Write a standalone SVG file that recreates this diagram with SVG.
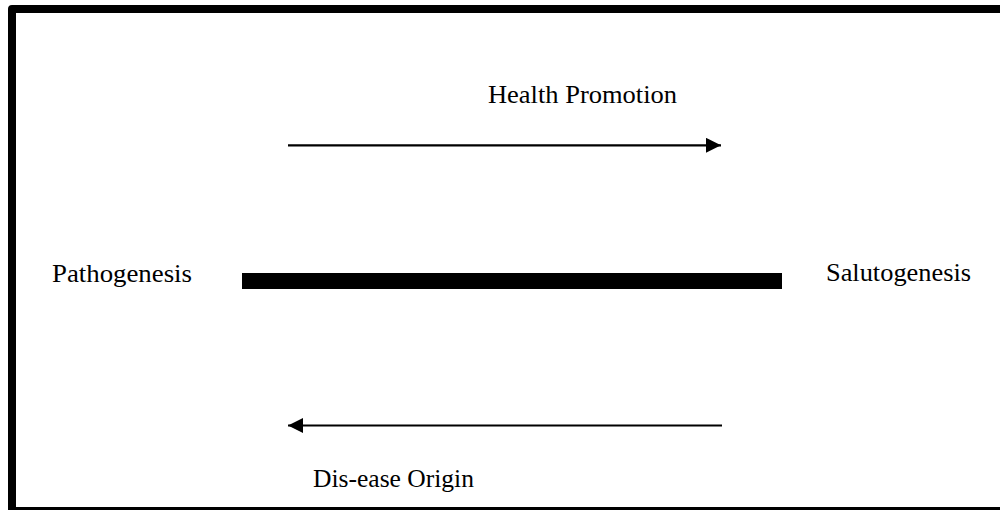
<svg xmlns="http://www.w3.org/2000/svg" width="1000" height="510" viewBox="0 0 1000 510">
  <style>
    .lbl { font-family: "Liberation Serif", "DejaVu Serif", serif; font-size: 24.5px; fill: #000; }
    .arrow { stroke: #000; stroke-width: 2.2; fill: none; }
  </style>
  <defs>
    <marker id="head" viewBox="0 0 10 10" refX="10" refY="5" markerUnits="userSpaceOnUse" markerWidth="15" markerHeight="15" orient="auto">
      <path d="M0,0 L10,5 L0,10 Z" fill="#000"/>
    </marker>
  </defs>
  <rect width="1000" height="510" fill="#fff"/>
  <!-- outer frame -->
  <rect id="frame" x="12" y="9" width="1000" height="502" fill="none" stroke="#000" stroke-width="8" stroke-linejoin="round"/>

  <g id="pathogenesis">
    <text class="lbl" x="52" y="282" textLength="140" lengthAdjust="spacingAndGlyphs">Pathogenesis</text>
  </g>
  <g id="salutogenesis">
    <text class="lbl" x="826" y="281" textLength="145" lengthAdjust="spacingAndGlyphs">Salutogenesis</text>
  </g>
  <g id="continuum">
    <rect x="242" y="273" width="540" height="16" fill="#000"/>
  </g>
  <g id="health-promotion">
    <text class="lbl" x="488" y="103" textLength="189" lengthAdjust="spacingAndGlyphs">Health Promotion</text>
  </g>
  <g id="disease-origin">
    <text class="lbl" x="313" y="487" textLength="161" lengthAdjust="spacingAndGlyphs">Dis-ease Origin</text>
  </g>

  <g id="connectors">
    <line class="arrow" x1="288" y1="145.3" x2="721" y2="145.3" marker-end="url(#head)"/>
    <line class="arrow" x1="722" y1="425.5" x2="288" y2="425.5" marker-end="url(#head)"/>
  </g>
</svg>
